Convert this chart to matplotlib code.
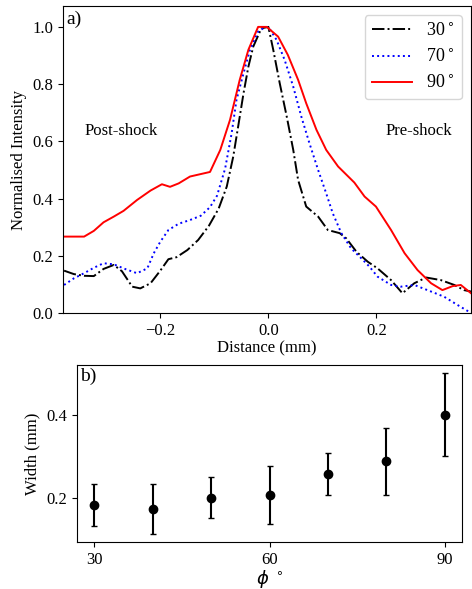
import matplotlib
matplotlib.use("Agg")
import matplotlib.pyplot as plt

plt.rcParams["font.family"] = ["Liberation Serif", "DejaVu Serif"]
plt.rcParams["font.size"] = 12

# Panel a) normalised intensity profiles
x_30 = [-0.378, -0.360, -0.341, -0.323, -0.305, -0.286, -0.271, -0.252, -0.237, -0.218,
        -0.200, -0.185, -0.170, -0.150, -0.130, -0.110, -0.092, -0.077, -0.065, -0.056,
        -0.046, -0.037, -0.028, -0.013, 0.0, 0.009, 0.021, 0.034, 0.046, 0.055,
        0.070, 0.092, 0.110, 0.132, 0.144, 0.163, 0.184, 0.202, 0.227, 0.248,
        0.270, 0.292, 0.319, 0.344, 0.362, 0.375]
y_30 = [0.148, 0.136, 0.130, 0.129, 0.154, 0.168, 0.146, 0.092, 0.086, 0.104,
        0.148, 0.188, 0.195, 0.220, 0.255, 0.305, 0.365, 0.442, 0.547, 0.651,
        0.768, 0.861, 0.931, 0.995, 1.0, 0.920, 0.803, 0.686, 0.570, 0.465,
        0.372, 0.337, 0.290, 0.279, 0.261, 0.214, 0.179, 0.156, 0.115, 0.069,
        0.104, 0.124, 0.115, 0.098, 0.080, 0.075]

x_70 = [-0.378, -0.360, -0.341, -0.323, -0.305, -0.286, -0.264, -0.243, -0.224, -0.212,
        -0.200, -0.185, -0.166, -0.145, -0.125, -0.108, -0.095, -0.080, -0.068, -0.059,
        -0.046, -0.034, -0.019, -0.006, 0.0, 0.015, 0.030, 0.046, 0.061, 0.076,
        0.092, 0.107, 0.119, 0.135, 0.153, 0.172, 0.187, 0.202, 0.227, 0.245,
        0.270, 0.301, 0.325, 0.350, 0.375]
y_70 = [0.098, 0.121, 0.139, 0.158, 0.174, 0.170, 0.153, 0.139, 0.156, 0.209,
        0.249, 0.290, 0.312, 0.325, 0.340, 0.370, 0.410, 0.505, 0.628, 0.745,
        0.838, 0.920, 0.984, 0.999, 1.0, 0.955, 0.885, 0.791, 0.686, 0.593,
        0.500, 0.418, 0.349, 0.279, 0.226, 0.191, 0.162, 0.127, 0.098, 0.092,
        0.098, 0.075, 0.057, 0.028, 0.0]

x_90 = [-0.378, -0.341, -0.323, -0.305, -0.286, -0.268, -0.243, -0.218, -0.197, -0.182,
        -0.166, -0.145, -0.108, -0.089, -0.071, -0.053, -0.037, -0.019, -0.003, 0.018,
        0.036, 0.055, 0.070, 0.089, 0.107, 0.129, 0.159, 0.178, 0.199, 0.227,
        0.252, 0.276, 0.301, 0.322, 0.341, 0.356, 0.375]
y_90 = [0.267, 0.267, 0.287, 0.317, 0.337, 0.357, 0.395, 0.428, 0.450, 0.441,
        0.453, 0.477, 0.493, 0.570, 0.675, 0.815, 0.920, 1.0, 1.0, 0.966,
        0.902, 0.815, 0.733, 0.640, 0.570, 0.512, 0.456, 0.407, 0.372, 0.290,
        0.209, 0.150, 0.104, 0.080, 0.094, 0.098, 0.069]

# Panel b) width vs angle
phi = [30, 40, 50, 60, 70, 80, 90]
width = [0.182, 0.172, 0.200, 0.206, 0.257, 0.287, 0.400]
width_err = [0.05, 0.06, 0.05, 0.07, 0.05, 0.08, 0.10]

fig = plt.figure(figsize=(4.72, 5.89), dpi=100)
ax1 = fig.add_axes([0.1335, 0.4686, 0.8645, 0.5212])
ax2 = fig.add_axes([0.163, 0.0798, 0.816, 0.3002])

ax1.plot(x_30, y_30, color="black", linestyle="-.", lw=1.4, label="30$^\\circ$")
ax1.plot(x_70, y_70, color="blue", linestyle=":", lw=1.4, label="70$^\\circ$")
ax1.plot(x_90, y_90, color="red", linestyle="-", lw=1.4, label="90$^\\circ$")
ax1.set_xlim(-0.38, 0.375)
ax1.set_ylim(0, 1.073)
ax1.set_xticks([-0.2, 0.0, 0.2])
ax1.set_yticks([0.0, 0.2, 0.4, 0.6, 0.8, 1.0])
ax1.set_xlabel("Distance (mm)", labelpad=1)
ax1.set_ylabel("Normalised Intensity")
ax1.text(-0.272, 0.636, "Post-shock", ha="center", va="center", fontsize=12)
ax1.text(0.279, 0.636, "Pre-shock", ha="center", va="center", fontsize=12)
ax1.text(0.008, 0.985, "a)", transform=ax1.transAxes, ha="left", va="top", fontsize=14)
ax1.legend(loc="upper right", fontsize=13, handlelength=2.2)

ax2.errorbar(phi, width, yerr=width_err, fmt="o", color="black", ecolor="black",
             capsize=2, elinewidth=1.5, markersize=6)
ax2.set_xticks([30, 60, 90])
ax2.set_yticks([0.2, 0.4])
ax2.set_ylabel("Width (mm)")
ax2.set_xlabel("$\\phi$ $^\\circ$", fontsize=13, labelpad=0)
ax2.text(0.008, 0.985, "b)", transform=ax2.transAxes, ha="left", va="top", fontsize=14)

fig.savefig("out.png", dpi=100)
